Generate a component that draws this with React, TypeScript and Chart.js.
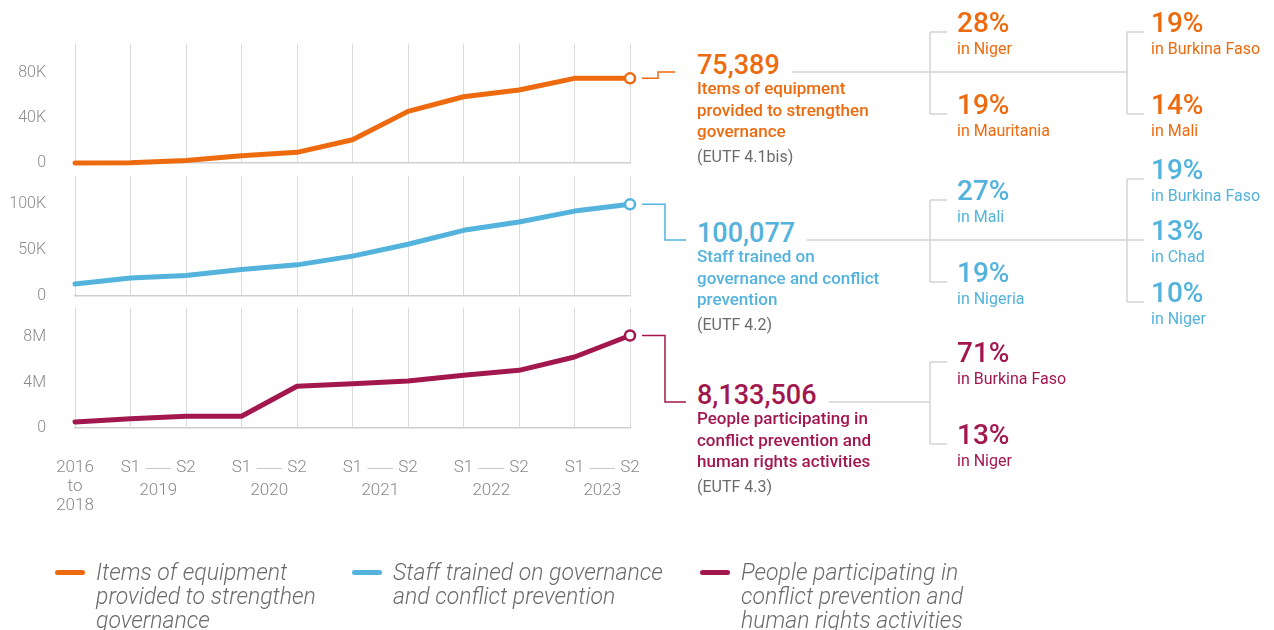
import React, { useEffect, useRef } from "react";
import { Chart, registerables } from "chart.js";

Chart.register(...registerables);

// ---------- DATA ----------
const xLabels: (string | string[])[] = [["2016", "to", "2018"], "S1", "S2", "S1", "S2", "S1", "S2", "S1", "S2", "S1", "S2"];
const years = ["2019", "2020", "2021", "2022", "2023"];

const equipment = [0, 200, 2300, 6500, 9500, 20700, 46000, 59000, 65000, 75389, 75389];
const staff = [13000, 19600, 22500, 29000, 34000, 43500, 56500, 71700, 80800, 92700, 100077];
const people = [530000, 820000, 1030000, 1030000, 3670000, 3900000, 4130000, 4630000, 5070000, 6240000, 8133506];

const equipmentTicks = [0, 40000, 80000];
const staffTicks = [0, 50000, 100000];
const peopleTicks = [0, 4000000, 8000000];

const totals = ["75,389", "100,077", "8,133,506"];
const descriptions = [
  ["Items of equipment", "provided to strengthen", "governance"],
  ["Staff trained on", "governance and conflict", "prevention"],
  ["People participating in", "conflict prevention and", "human rights activities"],
];
const codes = ["(EUTF 4.1bis)", "(EUTF 4.2)", "(EUTF 4.3)"];

const equipmentShares = [
  [["28%", "Niger"], ["19%", "Mauritania"]],
  [["19%", "Burkina Faso"], ["14%", "Mali"]],
];
const staffShares = [
  [["27%", "Mali"], ["19%", "Nigeria"]],
  [["19%", "Burkina Faso"], ["13%", "Chad"], ["10%", "Niger"]],
];
const peopleShares = [
  [["71%", "Burkina Faso"], ["13%", "Niger"]],
];

const legendLabels = [
  ["Items of equipment", "provided to strengthen", "governance"],
  ["Staff trained on governance", "and conflict prevention"],
  ["People participating in", "conflict prevention and", "human rights activities"],
];

// ---------- STYLE ----------
const ORANGE = "#ee6a0e";
const BLUE = "#53b3dc";
const CRIMSON = "#a3174f";
const TICK = "#8a8a8a";
const GRID = "#dcdcdc";
const FONT = "Roboto, 'Noto Sans', sans-serif";

type Panel = {
  data: number[];
  color: string;
  ticks: number[];
  max: number;
  unit: "K" | "M";
  canvasTop: number;
  canvasHeight: number;
  xHeight: number;
  padBottom: number;
  showX: boolean;
  lineY: number;
  elbow: number;
  end: number;
};

const panels: Panel[] = [
  { data: equipment, color: ORANGE, ticks: equipmentTicks, max: 106000, unit: "K", canvasTop: 24, canvasHeight: 150, xHeight: 0, padBottom: 11, showX: false, lineY: 72, elbow: 28, end: 45 },
  { data: staff, color: BLUE, ticks: staffTicks, max: 131000, unit: "K", canvasTop: 156, canvasHeight: 150, xHeight: 0, padBottom: 10, showX: false, lineY: 240, elbow: 35, end: 56 },
  { data: people, color: CRIMSON, ticks: peopleTicks, max: 10550000, unit: "M", canvasTop: 288, canvasHeight: 240, xHeight: 90, padBottom: 10, showX: true, lineY: 402, elbow: 35, end: 56 },
];

const sharesByPanel = [equipmentShares, staffShares, peopleShares];

function fmt(v: number, unit: "K" | "M") {
  if (v === 0) return "0";
  return unit === "K" ? v / 1000 + "K" : v / 1000000 + "M";
}

function PanelChart({ p }: { p: Panel }) {
  const ref = useRef<HTMLCanvasElement | null>(null);
  useEffect(() => {
    if (!ref.current) return;
    const last = p.data.length - 1;
    const connector = {
      id: "connector",
      afterDatasetsDraw(chart: any) {
        const meta = chart.getDatasetMeta(0);
        const pt = meta.data[last];
        const ctx = chart.ctx;
        const ty = p.lineY - p.canvasTop;
        ctx.save();
        ctx.strokeStyle = p.color;
        ctx.lineWidth = 1.5;
        ctx.beginPath();
        ctx.moveTo(pt.x + 12, pt.y);
        ctx.lineTo(pt.x + p.elbow, pt.y);
        ctx.lineTo(pt.x + p.elbow, ty);
        ctx.lineTo(pt.x + p.end, ty);
        ctx.stroke();
        ctx.restore();
      },
    };
    const yearsPlugin = {
      id: "years",
      afterDraw(chart: any) {
        if (!p.showX) return;
        const xs = chart.scales.x;
        const ctx = chart.ctx;
        const base = chart.chartArea.bottom;
        ctx.save();
        ctx.font = `300 17px ${FONT}`;
        ctx.fillStyle = TICK;
        ctx.textAlign = "center";
        ctx.textBaseline = "middle";
        ctx.strokeStyle = "#c8c8c8";
        ctx.lineWidth = 1;
        years.forEach((yr, k) => {
          const x1 = xs.getPixelForValue(1 + 2 * k);
          const x2 = xs.getPixelForValue(2 + 2 * k);
          ctx.fillText(yr, (x1 + x2) / 2, base + 63);
          ctx.beginPath();
          ctx.moveTo(x1 + 15, base + 40.5);
          ctx.lineTo(x2 - 15, base + 40.5);
          ctx.stroke();
        });
        ctx.restore();
      },
    };
    const chart = new Chart(ref.current, {
      type: "line",
      data: {
        labels: xLabels as any,
        datasets: [
          {
            data: p.data,
            borderColor: p.color,
            borderWidth: 5,
            borderCapStyle: "round",
            borderJoinStyle: "round",
            tension: 0,
            clip: false as any,
            pointRadius: p.data.map((_, i) => (i === last ? 5 : 0)),
            pointHoverRadius: 0,
            pointBackgroundColor: "#ffffff",
            pointBorderColor: p.color,
            pointBorderWidth: 2.5,
          },
        ],
      },
      options: {
        animation: false,
        responsive: false,
        maintainAspectRatio: false,
        events: [],
        layout: { autoPadding: false, padding: { top: 20, right: 70, bottom: p.padBottom, left: 0 } },
        plugins: { legend: { display: false }, tooltip: { enabled: false } },
        scales: {
          x: {
            grid: { color: GRID, lineWidth: 1, drawTicks: false },
            border: { display: true, color: "#cfcfcf", width: 1.5 },
            ticks: {
              display: p.showX,
              autoSkip: false,
              maxRotation: 0,
              padding: 30,
              color: TICK,
              font: { family: FONT, size: 17, weight: "300" as any, lineHeight: 1.13 },
            },
            afterFit: (s: any) => {
              s.height = p.xHeight;
              s.paddingLeft = 0;
              s.paddingRight = 0;
            },
          },
          y: {
            min: 0,
            max: p.max,
            grid: { display: false, drawTicks: false },
            border: { display: false },
            afterBuildTicks: (s: any) => {
              s.ticks = p.ticks.map((v) => ({ value: v }));
            },
            afterFit: (s: any) => {
              s.width = 75;
              s.paddingTop = 0;
              s.paddingBottom = 0;
            },
            ticks: {
              padding: 29,
              color: TICK,
              font: { family: FONT, size: 16, weight: "300" as any },
              callback: (v: any) => fmt(Number(v), p.unit),
            },
          },
        },
      },
      plugins: [connector, yearsPlugin],
    });
    return () => chart.destroy();
  }, [p]);
  return (
    <canvas
      ref={ref}
      width={700}
      height={p.canvasHeight}
      style={{ position: "absolute", left: 0, top: p.canvasTop, width: 700, height: p.canvasHeight }}
    />
  );
}

const TEXT_X = 697;
const COL_BRACKET = [930, 1127];
const COL_TEXT = [957, 1151];
const LINE_GRAY = "#d3d3d3";

function offsetsFor(n: number) {
  return n === 2 ? [-40, 42] : [-61, 0, 62];
}

function Annotations() {
  const lines: React.ReactNode[] = [];
  const texts: React.ReactNode[] = [];
  panels.forEach((p, pi) => {
    const cols = sharesByPanel[pi];
    const lastCol = COL_BRACKET[cols.length - 1];
    lines.push(<line key={`m${pi}`} x1={700} y1={p.lineY} x2={lastCol} y2={p.lineY} stroke={LINE_GRAY} strokeWidth={1.5} />);
    cols.forEach((entries, ci) => {
      const offs = offsetsFor(entries.length);
      const bx = COL_BRACKET[ci];
      lines.push(<line key={`v${pi}${ci}`} x1={bx} y1={p.lineY + offs[0]} x2={bx} y2={p.lineY + offs[offs.length - 1]} stroke={LINE_GRAY} strokeWidth={1.5} />);
      entries.forEach((e, ei) => {
        const ty = p.lineY + offs[ei];
        lines.push(<line key={`t${pi}${ci}${ei}`} x1={bx} y1={ty} x2={bx + 17} y2={ty} stroke={LINE_GRAY} strokeWidth={1.5} />);
        texts.push(
          <div key={`p${pi}${ci}${ei}`} style={{ position: "absolute", left: COL_TEXT[ci], top: ty - 24, lineHeight: "30px", fontSize: 28, fontWeight: 500, color: p.color, whiteSpace: "nowrap" }}>
            {e[0]}
          </div>
        );
        texts.push(
          <div key={`c${pi}${ci}${ei}`} style={{ position: "absolute", left: COL_TEXT[ci], top: ty + 6, lineHeight: "22px", fontSize: 16, fontWeight: 400, color: p.color, whiteSpace: "nowrap" }}>
            in {e[1]}
          </div>
        );
      });
    });
    texts.push(
      <div key={`n${pi}`} style={{ position: "absolute", left: TEXT_X, top: p.lineY - 22, lineHeight: "30px", fontSize: 27, fontWeight: 500, color: p.color, whiteSpace: "nowrap" }}>
        <span style={{ background: "#fff", paddingRight: 12 }}>{totals[pi]}</span>
      </div>
    );
    texts.push(
      <div key={`d${pi}`} style={{ position: "absolute", left: TEXT_X, top: p.lineY + 6, lineHeight: "21.5px", fontSize: 17, fontWeight: 500, color: p.color, whiteSpace: "nowrap" }}>
        {descriptions[pi].map((l, i) => (
          <div key={i}>{l}</div>
        ))}
      </div>
    );
    texts.push(
      <div key={`e${pi}`} style={{ position: "absolute", left: TEXT_X, top: p.lineY + 74, lineHeight: "21.5px", fontSize: 16, fontWeight: 400, color: "#6b6b6b", whiteSpace: "nowrap" }}>
        {codes[pi]}
      </div>
    );
  });
  return (
    <>
      <svg width={1274} height={630} style={{ position: "absolute", left: 0, top: 0 }}>
        {lines}
      </svg>
      {texts}
    </>
  );
}

function Legend() {
  const xs = [55, 352, 700];
  const colors = [ORANGE, BLUE, CRIMSON];
  return (
    <>
      {legendLabels.map((lbl, i) => (
        <React.Fragment key={i}>
          <div style={{ position: "absolute", left: xs[i], top: 570, width: 30, height: 5, borderRadius: 3, background: colors[i] }} />
          <div style={{ position: "absolute", left: xs[i] + 41, top: 561, fontSize: 23, lineHeight: "24px", fontStyle: "italic", fontWeight: 300, color: "#6b6b6b", whiteSpace: "nowrap" }}>
            {lbl.map((l, j) => (
              <div key={j}>{l}</div>
            ))}
          </div>
        </React.Fragment>
      ))}
    </>
  );
}

export default function App() {
  return (
    <div style={{ position: "absolute", left: 0, top: 0, width: 1274, height: 630, overflow: "hidden", background: "#fff", fontFamily: FONT }}>
      {panels.map((p, i) => (
        <PanelChart key={i} p={p} />
      ))}
      <Annotations />
      <Legend />
    </div>
  );
}
